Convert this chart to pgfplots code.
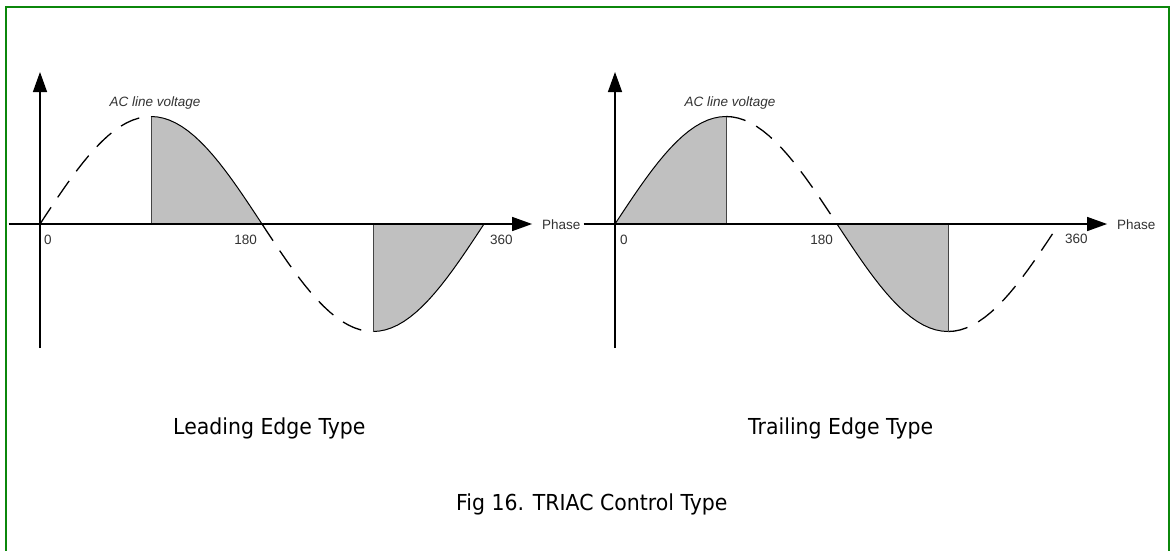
\documentclass[border=0pt]{standalone}
\usepackage{pgfplots}
\pgfplotsset{compat=1.18}
\usepackage{pgfplotstable}
\usepackage{fontspec}
\setmainfont{Liberation Sans}
\newfontfamily\titlefont[FakeStretch=0.93]{DejaVu Sans}
\usetikzlibrary{arrows.meta}
\definecolor{shade}{HTML}{C0C0C0}
\definecolor{frame}{HTML}{0B870B}
\definecolor{lbl}{HTML}{333333}
\definecolor{vline}{HTML}{444444}

\pgfplotstableread{
deg v
0 0
5 0.0872
10 0.1736
15 0.2588
20 0.3420
25 0.4226
30 0.5
35 0.5736
40 0.6428
45 0.7071
50 0.7660
55 0.8192
60 0.8660
65 0.9063
70 0.9397
75 0.9659
80 0.9848
85 0.9962
90 1
95 0.9962
100 0.9848
105 0.9659
110 0.9397
115 0.9063
120 0.8660
125 0.8192
130 0.7660
135 0.7071
140 0.6428
145 0.5736
150 0.5
155 0.4226
160 0.3420
165 0.2588
170 0.1736
175 0.0872
180 0
185 -0.0872
190 -0.1736
195 -0.2588
200 -0.3420
205 -0.4226
210 -0.5
215 -0.5736
220 -0.6428
225 -0.7071
230 -0.7660
235 -0.8192
240 -0.8660
245 -0.9063
250 -0.9397
255 -0.9659
260 -0.9848
265 -0.9962
270 -1
275 -0.9962
280 -0.9848
285 -0.9659
290 -0.9397
295 -0.9063
300 -0.8660
305 -0.8192
310 -0.7660
315 -0.7071
320 -0.6428
325 -0.5736
330 -0.5
335 -0.4226
340 -0.3420
345 -0.2588
350 -0.1736
355 -0.0872
360 0
}\wave

\pgfplotsset{
  wavestyle/.style={
    scale only axis, width=523.55pt, height=276pt,
    xmin=-25.5, xmax=399, ymin=-1.1535, ymax=1.414,
    axis lines=middle, xtick=\empty, ytick=\empty,
    axis line style={line width=1.4pt, -{Triangle[length=20pt,width=14pt]}},
    clip=false, anchor=south west, axis on top,
  },
  solidc/.style={black, line width=1pt},
  dashc/.style={black, line width=1.3pt, dash pattern=on 20pt off 12pt},
}

\begin{document}
\begin{tikzpicture}[x=1pt,y=1pt]
\useasboundingbox (0,0) rectangle (1170,-550);
\fill[white] (0,0) rectangle (1170,-550);
\draw[frame, line width=2pt] (6,-560) -- (6,-7) -- (1168.5,-7) -- (1168.5,-560);

% Leading edge
\begin{axis}[wavestyle, at={(8.55pt,-348pt)}]
  \addplot[fill=shade, draw=none, restrict x to domain=90:180] table[x=deg,y=v] {\wave} \closedcycle;
  \addplot[fill=shade, draw=none, restrict x to domain=270:360] table[x=deg,y=v] {\wave} \closedcycle;
  \addplot[dashc, restrict x to domain=0:90] table[x=deg,y=v] {\wave};
  \addplot[solidc, restrict x to domain=90:180] table[x=deg,y=v] {\wave};
  \addplot[dashc, restrict x to domain=180:270] table[x=deg,y=v] {\wave};
  \addplot[solidc, restrict x to domain=270:360] table[x=deg,y=v] {\wave};
  \addplot[vline, line width=0.9pt] coordinates {(90,0) (90,1)};
  \addplot[vline, line width=0.9pt] coordinates {(270,0) (270,-1)};
\end{axis}

% Trailing edge
\begin{axis}[wavestyle, at={(583.55pt,-348pt)}]
  \addplot[fill=shade, draw=none, restrict x to domain=0:90] table[x=deg,y=v] {\wave} \closedcycle;
  \addplot[fill=shade, draw=none, restrict x to domain=180:270] table[x=deg,y=v] {\wave} \closedcycle;
  \addplot[solidc, restrict x to domain=0:90] table[x=deg,y=v] {\wave};
  \addplot[dashc, restrict x to domain=90:180] table[x=deg,y=v] {\wave};
  \addplot[solidc, restrict x to domain=180:270] table[x=deg,y=v] {\wave};
  \addplot[dashc, restrict x to domain=270:360] table[x=deg,y=v] {\wave};
  \addplot[vline, line width=0.9pt] coordinates {(90,0) (90,1)};
  \addplot[vline, line width=0.9pt] coordinates {(270,0) (270,-1)};
\end{axis}

\tikzset{small/.style={text=lbl, inner sep=0pt, font=\fontsize{13.5}{16}\selectfont}}
% left labels
\node[small, font=\itshape\fontsize{13.5}{16}\selectfont, anchor=base] at (155,-106) {AC line voltage};
\node[small, anchor=base west] at (44,-244) {0};
\node[small, anchor=base east] at (257,-244) {180};
\node[small, anchor=base west] at (490,-244) {360};
\node[small, anchor=base west] at (542,-229) {Phase};
% right labels
\node[small, font=\itshape\fontsize{13.5}{16}\selectfont, anchor=base] at (730,-106) {AC line voltage};
\node[small, anchor=base west] at (620,-244) {0};
\node[small, anchor=base east] at (833,-244) {180};
\node[small, anchor=base west] at (1065,-243) {360};
\node[small, anchor=base west] at (1117,-229) {Phase};

\tikzset{big/.style={inner sep=0pt, font=\titlefont\fontsize{22}{26}\selectfont}}
\node[big, anchor=base west] at (173,-434) {Leading Edge Type};
\node[big, anchor=base west] at (748,-434) {Trailing Edge Type};
\node[big, anchor=base west] at (456,-510) {Fig 16. TRIAC Control Type};
\end{tikzpicture}
\end{document}
